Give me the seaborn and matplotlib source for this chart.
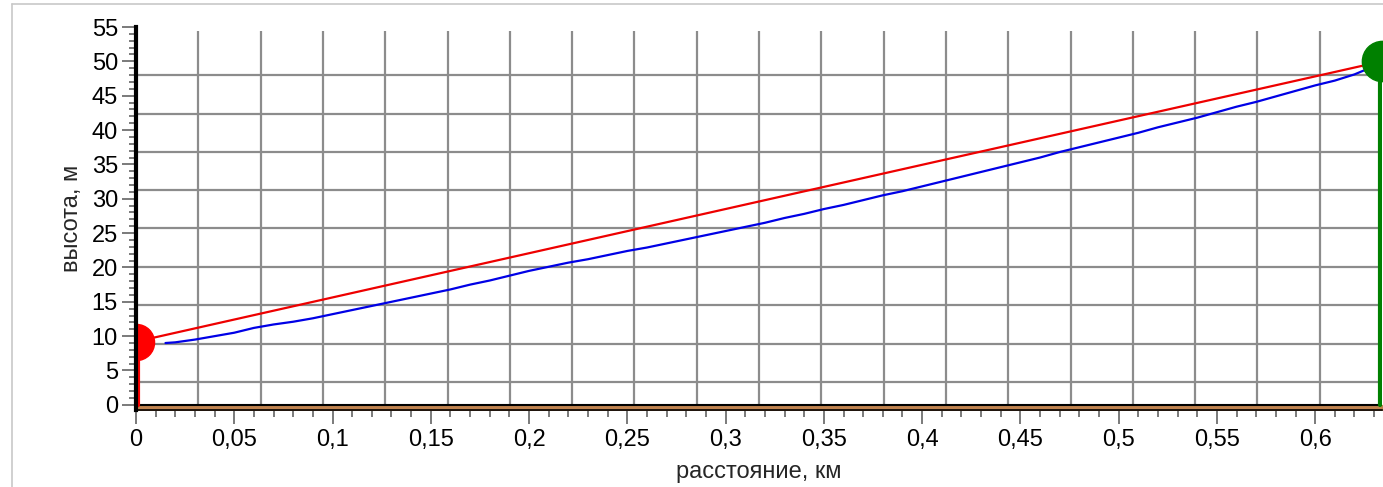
import numpy as np
import pandas as pd
import matplotlib
matplotlib.use('Agg')
import matplotlib.pyplot as plt
from matplotlib.lines import Line2D
from matplotlib.ticker import MultipleLocator, FixedLocator, FixedFormatter
import seaborn as sns

# === Dados
x_max = 0.634  # km
h_start = 9.2
h_end = 50.0
los_x = [0.0, x_max]
los_h = [h_start, h_end]

profile_x = [0.015, 0.02, 0.03, 0.04, 0.05, 0.06, 0.07, 0.08, 0.09, 0.10,
             0.11, 0.12, 0.13, 0.14, 0.15, 0.16, 0.17, 0.18, 0.19, 0.20,
             0.21, 0.22, 0.23, 0.24, 0.25, 0.26, 0.27, 0.28, 0.29, 0.30,
             0.31, 0.32, 0.33, 0.34, 0.35, 0.36, 0.37, 0.38, 0.39, 0.40,
             0.41, 0.42, 0.43, 0.44, 0.45, 0.46, 0.47, 0.48, 0.49, 0.50,
             0.51, 0.52, 0.53, 0.54, 0.55, 0.56, 0.57, 0.58, 0.59, 0.60,
             0.61, 0.62, 0.63]
profile_h = [9.0, 9.1, 9.5, 10.0, 10.5, 11.2, 11.7, 12.1, 12.6, 13.2,
             13.8, 14.4, 15.0, 15.6, 16.2, 16.8, 17.5, 18.1, 18.8, 19.5,
             20.1, 20.7, 21.2, 21.8, 22.4, 22.9, 23.5, 24.1, 24.7, 25.3,
             25.9, 26.5, 27.2, 27.8, 28.5, 29.1, 29.8, 30.5, 31.1, 31.8,
             32.5, 33.2, 33.9, 34.6, 35.3, 36.0, 36.8, 37.5, 38.2, 38.9,
             39.6, 40.4, 41.1, 41.8, 42.6, 43.4, 44.1, 44.9, 45.7, 46.5,
             47.2, 48.1, 49.3]

terrain_x = [0.0, x_max]
terrain_h = [0.0, 0.0]

x_ticks = [0, 0.05, 0.1, 0.15, 0.2, 0.25, 0.3, 0.35, 0.4, 0.45, 0.5, 0.55, 0.6]
x_labels = ['0', '0,05', '0,1', '0,15', '0,2', '0,25', '0,3', '0,35', '0,4',
            '0,45', '0,5', '0,55', '0,6']
y_ticks = [0, 5, 10, 15, 20, 25, 30, 35, 40, 45, 50, 55]
y_grid = [3.35, 8.9, 14.5, 20.1, 25.7, 31.3, 36.8, 42.4, 48.0]

df_los = pd.DataFrame({'x': los_x, 'h': los_h})
df_prof = pd.DataFrame({'x': profile_x, 'h': profile_h})

# === Estilo
sns.set_style('white')
plt.rcParams['font.family'] = ['Liberation Sans', 'DejaVu Sans']

fig = plt.figure(figsize=(13.83, 4.87), dpi=100)
ax = fig.add_axes([136 / 1383, 1 - 410 / 487, (1382 - 136) / 1383, (410 - 27) / 487])
y_bottom = -0.75
ax.set_xlim(0, x_max)
ax.set_ylim(y_bottom, 55)

# grade (independente dos ticks)
x_grid = np.linspace(0, x_max, 21)[1:-1]
ax.vlines(x_grid, y_bottom, 54.4, colors='#8c8c8c', lw=1.6, zorder=1)
ax.hlines(y_grid, 0, x_max, colors='#8c8c8c', lw=1.6, zorder=1)

# terreno
ax.fill_between(terrain_x, terrain_h, y_bottom, color='#c0834f', zorder=2)
ax.plot(terrain_x, terrain_h, color='black', lw=1.5, zorder=3)

# perfil e linha de visada
sns.lineplot(data=df_prof, x='x', y='h', ax=ax, color='#0000e6', lw=1.6, zorder=4)
sns.lineplot(data=df_los, x='x', y='h', ax=ax, color='#ee0000', lw=1.6, zorder=5)

# antenas
ax.plot([0.0012, 0.0012], [0, h_start], color='#ff0000', lw=3, zorder=6)
ax.plot([0], [h_start], marker='o', ms=26, color='#ff0000', zorder=6)
ax.plot([x_max - 0.0012, x_max - 0.0012], [0, h_end], color='#008000', lw=3, zorder=6)
ax.plot([x_max], [h_end], marker='o', ms=29, color='#008000', zorder=6)

# eixos
for s in ['top', 'right']:
    ax.spines[s].set_visible(False)
ax.spines['left'].set_linewidth(3)
ax.spines['left'].set_color('black')
ax.spines['left'].set_zorder(7)
ax.spines['bottom'].set_linewidth(1.2)
ax.spines['bottom'].set_color('black')

ax.xaxis.set_major_locator(FixedLocator(x_ticks))
ax.xaxis.set_major_formatter(FixedFormatter(x_labels))
ax.xaxis.set_minor_locator(MultipleLocator(0.01))
ax.yaxis.set_major_locator(FixedLocator(y_ticks))
ax.yaxis.set_minor_locator(MultipleLocator(1))
ax.tick_params(axis='both', which='both', bottom=True, left=True)
ax.tick_params(axis='both', which='major', direction='out', length=10, width=1.3,
               color='#707070', labelsize=17, labelcolor='black')
ax.tick_params(axis='both', which='minor', direction='out', length=5, width=1.3,
               color='#707070')
ax.tick_params(axis='x', which='major', pad=4)
ax.tick_params(axis='y', which='major', pad=3)
ax.grid(False)

ax.set_xlabel('расстояние, км', fontsize=17, labelpad=7)
ax.set_ylabel('высота, м', fontsize=17, labelpad=6)

# moldura cinza da figura
fig.add_artist(Line2D([12 / 1383, 12 / 1383], [0, 1 - 4 / 487], color='#c8c8c8', lw=1.2))
fig.add_artist(Line2D([12 / 1383, 1], [1 - 4 / 487, 1 - 4 / 487], color='#c8c8c8', lw=1.2))

fig.savefig('out.png', dpi=100)
